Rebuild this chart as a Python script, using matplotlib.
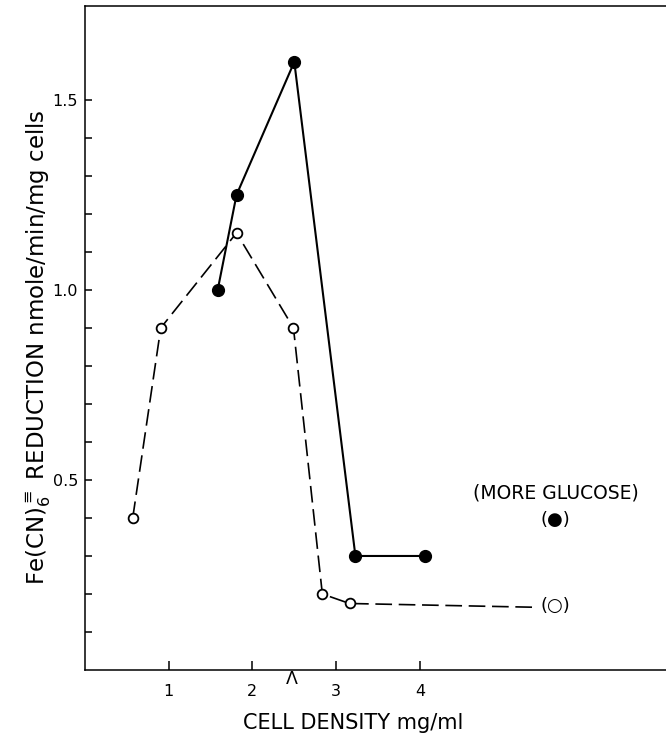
import matplotlib
matplotlib.use("Agg")
import matplotlib.pyplot as plt
import numpy as np

# filled circles (solid line)
filled_x = [1.585, 1.81, 2.50, 3.23, 4.06]
filled_y = [1.00, 1.25, 1.60, 0.30, 0.30]

# open circles (dashed line), last entry is the unmarked end of the dash
open_x = [0.57, 0.905, 1.81, 2.49, 2.835, 3.16, 5.39]
open_y = [0.40, 0.90, 1.15, 0.90, 0.20, 0.175, 0.165]

x_ticks = [1, 2, 3, 4]
x_ticklabels = ['1', '2', '3', '4']
y_ticks = [0.1, 0.2, 0.3, 0.4, 0.5, 0.6, 0.7, 0.8, 0.9, 1.0, 1.1, 1.2, 1.3, 1.4, 1.5]
y_ticklabels = ['', '', '', '', '0.5', '', '', '', '', '1.0', '', '', '', '', '1.5']

plt.rcParams['font.family'] = ['DejaVu Sans']

fig = plt.figure(figsize=(6.66, 7.37), dpi=100)
ax = fig.add_axes([85 / 666, 67 / 737, 581 / 666, 664 / 737])

ax.plot(filled_x, filled_y, color='black', lw=1.5, marker='o', ms=8.5,
        mfc='black', mec='black', zorder=3)
ax.plot(open_x, open_y, color='black', lw=1.2, linestyle=(0, (10, 4)),
        marker='o', ms=7, mfc='white', mec='black', mew=1.3,
        markevery=list(range(len(open_x) - 1)), zorder=2)

ax.set_xlim(0, 6.94)
ax.set_ylim(0, 1.747)
ax.set_xticks(x_ticks)
ax.set_xticklabels(x_ticklabels)
ax.set_yticks(y_ticks)
ax.set_yticklabels(y_ticklabels)
ax.tick_params(axis='x', direction='in', length=6.5, width=1.1, pad=10, labelsize=11.5)
ax.tick_params(axis='y', direction='in', length=5, width=1.1, pad=5, labelsize=11.5)

ax.spines['right'].set_visible(False)
for s in ['left', 'top', 'bottom']:
    ax.spines[s].set_linewidth(1.1)

# caret mark under the axis
ax.text(2.47, 0, '\u039b', transform=ax.get_xaxis_transform(),
        ha='center', va='top', fontsize=12.5)

ax.text(5.63, 0.466, '(MORE GLUCOSE)', ha='center', va='center', fontsize=13.5)
ax.text(5.62, 0.394, '(\u25cf)', ha='center', va='center', fontsize=13)
ax.text(5.62, 0.168, '(\u25cb)', ha='center', va='center', fontsize=13)

fig.text(353 / 666, 1 - 729 / 737, 'CELL DENSITY mg/ml', ha='center',
         va='baseline', fontsize=15)
fig.text(39 / 666, 1 - 347 / 737,
         r'Fe(CN)$_6^{\equiv}$ REDUCTION nmole/min/mg cells',
         rotation=90, ha='center', va='center', fontsize=16.5)

fig.savefig('out.png', dpi=100)
